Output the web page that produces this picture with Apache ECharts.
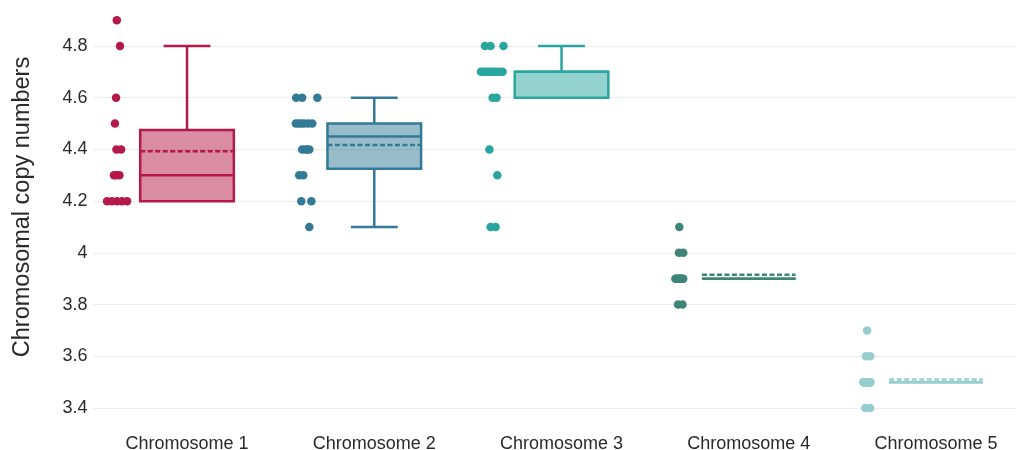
<!DOCTYPE html>
<html>
<head>
<meta charset="utf-8">
<script src="https://cdn.jsdelivr.net/npm/echarts@6/dist/echarts.min.js"></script>
<style>
  html, body { margin: 0; padding: 0; background: #ffffff; }
  #chart { width: 1016px; height: 450px; }
</style>
</head>
<body>
<div id="chart"></div>
<script>
// Copy-number measurements per chromosome
const categories = ['Chromosome 1', 'Chromosome 2', 'Chromosome 3', 'Chromosome 4', 'Chromosome 5'];
const seriesColors = ['#B5194A', '#327A95', '#29A59F', '#3D8577', '#96CECE'];

const chr1Values = [4.9, 4.8, 4.6, 4.5, 4.4, 4.4, 4.3, 4.3, 4.3, 4.2, 4.2, 4.2, 4.2, 4.2];
const chr2Values = [4.6, 4.6, 4.6, 4.5, 4.5, 4.5, 4.5, 4.5, 4.5, 4.4, 4.4, 4.4, 4.4, 4.3, 4.3, 4.2, 4.2, 4.1];
const chr3Values = [4.8, 4.8, 4.8, 4.7, 4.7, 4.7, 4.7, 4.7, 4.7, 4.7, 4.7, 4.7, 4.6, 4.6, 4.4, 4.3, 4.1, 4.1];
const chr4Values = [4.1, 4.0, 4.0, 3.9, 3.9, 3.9, 3.9, 3.9, 3.9, 3.9, 3.9, 3.8, 3.8];
const chr5Values = [3.7, 3.6, 3.6, 3.5, 3.5, 3.5, 3.5, 3.5, 3.5, 3.5, 3.5, 3.5, 3.5, 3.5, 3.5, 3.5, 3.5, 3.5, 3.4, 3.4];

// Horizontal scatter of each point, in category units relative to its category
const chr1Jitter = [-0.375, -0.358, -0.379, -0.385, -0.377, -0.352, -0.390, -0.377, -0.361, -0.427, -0.401, -0.374, -0.347, -0.320];
const chr2Jitter = [-0.417, -0.385, -0.304, -0.419, -0.406, -0.390, -0.374, -0.352, -0.331, -0.385, -0.368, -0.358, -0.347, -0.401, -0.379, -0.390, -0.336, -0.347];
const chr3Jitter = [-0.409, -0.379, -0.310, -0.430, -0.417, -0.403, -0.390, -0.377, -0.363, -0.350, -0.331, -0.315, -0.368, -0.347, -0.385, -0.343, -0.379, -0.352];
const chr4Jitter = [-0.371, -0.373, -0.350, -0.392, -0.386, -0.380, -0.374, -0.368, -0.362, -0.356, -0.350, -0.378, -0.354];
const chr5Jitter = [-0.368, -0.374, -0.352, -0.388, -0.386, -0.384, -0.381, -0.378, -0.375, -0.372, -0.369, -0.366, -0.363, -0.360, -0.357, -0.354, -0.352, -0.350, -0.378, -0.352];

const yTicks = { min: 3.4, max: 4.8, interval: 0.2 };

const allValues = [chr1Values, chr2Values, chr3Values, chr4Values, chr5Values];
const allJitter = [chr1Jitter, chr2Jitter, chr3Jitter, chr4Jitter, chr5Jitter];

function quantile(sorted, p) {
  const pos = p * (sorted.length - 1);
  const lo = Math.floor(pos);
  const frac = pos - lo;
  if (lo + 1 >= sorted.length) return sorted[lo];
  return sorted[lo] + (sorted[lo + 1] - sorted[lo]) * frac;
}

// [index, lowerWhisker, q1, median, q3, upperWhisker, mean]
function boxStats(values, index) {
  const s = values.slice().sort((a, b) => a - b);
  const q1 = quantile(s, 0.25), med = quantile(s, 0.5), q3 = quantile(s, 0.75);
  const iqr = q3 - q1;
  const lowFence = q1 - 1.5 * iqr - 1e-9, highFence = q3 + 1.5 * iqr + 1e-9;
  const inside = s.filter(v => v >= lowFence && v <= highFence);
  const mean = s.reduce((a, b) => a + b, 0) / s.length;
  return [index, Math.min(inside[0], q1), q1, med, q3, Math.max(inside[inside.length - 1], q3), mean];
}

const FONT = '"Liberation Sans", Arial, Helvetica, sans-serif';
const BOX_FRACTION = 0.5;
const LINE_W = 2.5;

function hexToRgba(hex, a) {
  const n = parseInt(hex.slice(1), 16);
  return 'rgba(' + ((n >> 16) & 255) + ',' + ((n >> 8) & 255) + ',' + (n & 255) + ',' + a + ')';
}

function renderBox(params, api) {
  const i = api.value(0);
  const color = seriesColors[i];
  const band = api.size([1, 0])[0];
  const half = band * BOX_FRACTION / 2;
  const capHalf = half / 2;
  const cx = api.coord([i, api.value(3)])[0];
  const yLo = api.coord([i, api.value(1)])[1];
  const yQ1 = api.coord([i, api.value(2)])[1];
  const yMed = api.coord([i, api.value(3)])[1];
  const yQ3 = api.coord([i, api.value(4)])[1];
  const yHi = api.coord([i, api.value(5)])[1];
  const yMean = api.coord([i, api.value(6)])[1];
  const stroke = { stroke: color, lineWidth: LINE_W, fill: null };
  const children = [];
  if (yLo - yQ1 > 0.5) {
    children.push({ type: 'line', shape: { x1: cx, y1: yQ1, x2: cx, y2: yLo }, style: stroke });
    children.push({ type: 'line', shape: { x1: cx - capHalf, y1: yLo, x2: cx + capHalf, y2: yLo }, style: stroke });
  }
  if (yQ3 - yHi > 0.5) {
    children.push({ type: 'line', shape: { x1: cx, y1: yQ3, x2: cx, y2: yHi }, style: stroke });
    children.push({ type: 'line', shape: { x1: cx - capHalf, y1: yHi, x2: cx + capHalf, y2: yHi }, style: stroke });
  }
  children.push({
    type: 'rect',
    shape: { x: cx - half, y: yQ3, width: half * 2, height: Math.max(yQ1 - yQ3, 0) },
    style: { fill: hexToRgba(color, 0.5), stroke: color, lineWidth: LINE_W }
  });
  children.push({ type: 'line', shape: { x1: cx - half, y1: yMed, x2: cx + half, y2: yMed }, style: stroke });
  // dashed mean line, hidden when it falls on a box edge
  const onEdge = (yQ1 - yQ3 > 0.5) && (Math.abs(yMean - yQ1) < 1 || Math.abs(yMean - yQ3) < 1);
  if (!onEdge) {
    children.push({
      type: 'line',
      shape: { x1: cx - half, y1: yMean, x2: cx + half, y2: yMean },
      style: { stroke: color, lineWidth: LINE_W, lineDash: [LINE_W * 2, LINE_W], fill: null }
    });
  }
  return { type: 'group', children: children };
}

const boxData = allValues.map((v, i) => boxStats(v, i));

const pointSeries = allValues.map((vals, i) => ({
  type: 'scatter',
  xAxisIndex: 1,
  clip: false,
  symbol: 'circle',
  symbolSize: 8.5,
  itemStyle: { color: seriesColors[i], opacity: 1 },
  data: vals.map((v, k) => [i + allJitter[i][k], v]),
  z: 3
}));

const chart = echarts.init(document.getElementById('chart'), null, { renderer: 'canvas' });
chart.setOption({
  animation: false,
  backgroundColor: '#ffffff',
  grid: { left: 93.4, width: 936.25, top: 46, height: 362, outerBoundsMode: 'none', containLabel: false },
  xAxis: [
    {
      type: 'category',
      data: categories,
      boundaryGap: true,
      axisLine: { show: false },
      axisTick: { show: false },
      splitLine: { show: false },
      axisLabel: { color: '#2a2a2a', fontSize: 18, fontFamily: FONT, margin: 27 }
    },
    {
      type: 'value',
      min: -0.5,
      max: categories.length - 0.5,
      show: false
    }
  ],
  yAxis: {
    type: 'value',
    min: yTicks.min,
    max: yTicks.max,
    interval: yTicks.interval,
    axisLine: { show: false },
    axisTick: { show: false },
    splitLine: { show: true, lineStyle: { color: '#ebebeb', width: 1 } },
    axisLabel: { color: '#2a2a2a', fontSize: 18, fontFamily: FONT, margin: 6 }
  },
  graphic: [{
    type: 'text',
    x: 23,
    y: 207,
    rotation: Math.PI / 2,
    style: {
      text: 'Chromosomal copy numbers',
      font: '23.5px ' + FONT,
      fill: '#2a2a2a',
      align: 'center',
      verticalAlign: 'middle'
    }
  }],
  series: [{
    type: 'custom',
    xAxisIndex: 0,
    renderItem: renderBox,
    encode: { x: 0, y: [1, 2, 3, 4, 5, 6] },
    data: boxData,
    clip: false,
    z: 2
  }].concat(pointSeries)
});
</script>
</body>
</html>
